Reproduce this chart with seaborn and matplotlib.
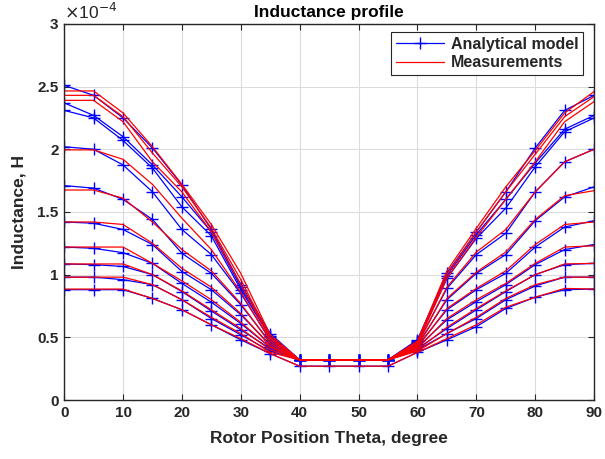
import numpy as np
import pandas as pd
import matplotlib
matplotlib.use("Agg")
import matplotlib.pyplot as plt
from matplotlib.lines import Line2D
import seaborn as sns

# Rotor angle (degrees) at which each profile is sampled
angles = [0, 5, 10, 15, 20, 25, 30, 35, 40, 45, 50, 55, 60, 65, 70, 75, 80, 85, 90]

# Inductance profiles in units of 1e-4 H, one row per excitation level
analytical = [
    [2.51, 2.43, 2.25, 2.01, 1.715, 1.36, 0.92, 0.53, 0.32, 0.32, 0.32, 0.32, 0.48, 1.01, 1.34, 1.66, 2.01, 2.31, 2.43],
    [2.37, 2.27, 2.10, 1.875, 1.62, 1.34, 0.90, 0.51, 0.32, 0.32, 0.32, 0.32, 0.47, 0.99, 1.32, 1.60, 1.89, 2.16, 2.27],
    [2.31, 2.25, 2.07, 1.85, 1.54, 1.31, 0.88, 0.50, 0.32, 0.32, 0.32, 0.32, 0.46, 0.97, 1.29, 1.53, 1.86, 2.14, 2.25],
    [2.02, 2.00, 1.875, 1.66, 1.36, 1.16, 0.85, 0.48, 0.32, 0.32, 0.32, 0.32, 0.45, 0.89, 1.16, 1.33, 1.66, 1.90, 2.00],
    [1.71, 1.69, 1.60, 1.44, 1.17, 1.01, 0.76, 0.46, 0.32, 0.32, 0.32, 0.32, 0.44, 0.80, 1.01, 1.16, 1.43, 1.62, 1.70],
    [1.42, 1.41, 1.36, 1.24, 1.025, 0.88, 0.68, 0.44, 0.32, 0.32, 0.32, 0.32, 0.43, 0.72, 0.88, 1.01, 1.22, 1.38, 1.43],
    [1.22, 1.21, 1.175, 1.09, 0.93, 0.78, 0.61, 0.42, 0.32, 0.32, 0.32, 0.32, 0.42, 0.64, 0.785, 0.92, 1.08, 1.20, 1.24],
    [1.085, 1.08, 1.065, 1.00, 0.865, 0.71, 0.56, 0.41, 0.32, 0.32, 0.32, 0.32, 0.41, 0.57, 0.72, 0.865, 1.00, 1.08, 1.09],
    [0.98, 0.98, 0.96, 0.92, 0.80, 0.65, 0.52, 0.39, 0.32, 0.32, 0.32, 0.32, 0.40, 0.53, 0.65, 0.80, 0.91, 0.98, 0.98],
    [0.88, 0.88, 0.88, 0.81, 0.72, 0.60, 0.48, 0.37, 0.27, 0.27, 0.27, 0.27, 0.38, 0.48, 0.585, 0.73, 0.82, 0.88, 0.885],
]

measured = [
    [2.465, 2.465, 2.29, 2.02, 1.72, 1.40, 1.01, 0.52, 0.32, 0.32, 0.32, 0.32, 0.47, 1.03, 1.37, 1.70, 1.99, 2.29, 2.46],
    [2.43, 2.43, 2.26, 1.97, 1.70, 1.37, 0.96, 0.50, 0.32, 0.32, 0.32, 0.32, 0.46, 1.00, 1.34, 1.66, 1.96, 2.26, 2.42],
    [2.39, 2.39, 2.22, 1.90, 1.66, 1.34, 0.92, 0.49, 0.32, 0.32, 0.32, 0.32, 0.45, 0.97, 1.30, 1.60, 1.90, 2.22, 2.38],
    [1.995, 1.995, 1.92, 1.72, 1.45, 1.20, 0.86, 0.47, 0.32, 0.32, 0.32, 0.32, 0.44, 0.90, 1.18, 1.36, 1.66, 1.90, 2.00],
    [1.675, 1.675, 1.61, 1.42, 1.20, 1.03, 0.77, 0.45, 0.32, 0.32, 0.32, 0.32, 0.43, 0.81, 1.02, 1.18, 1.44, 1.63, 1.67],
    [1.42, 1.42, 1.40, 1.25, 1.05, 0.90, 0.69, 0.43, 0.32, 0.32, 0.32, 0.32, 0.42, 0.73, 0.89, 1.03, 1.24, 1.40, 1.42],
    [1.22, 1.22, 1.22, 1.09, 0.95, 0.80, 0.62, 0.42, 0.32, 0.32, 0.32, 0.32, 0.41, 0.65, 0.80, 0.93, 1.09, 1.22, 1.23],
    [1.085, 1.085, 1.085, 1.00, 0.87, 0.72, 0.57, 0.40, 0.32, 0.32, 0.32, 0.32, 0.40, 0.58, 0.73, 0.87, 1.00, 1.085, 1.09],
    [0.98, 0.98, 0.98, 0.92, 0.80, 0.66, 0.53, 0.38, 0.32, 0.32, 0.32, 0.32, 0.39, 0.53, 0.66, 0.81, 0.92, 0.98, 0.98],
    [0.885, 0.885, 0.885, 0.81, 0.72, 0.60, 0.49, 0.37, 0.27, 0.27, 0.27, 0.27, 0.38, 0.49, 0.60, 0.74, 0.82, 0.89, 0.885],
]

x_ticks = [0, 10, 20, 30, 40, 50, 60, 70, 80, 90]
y_ticks = [0, 0.5, 1, 1.5, 2, 2.5, 3]


def to_long(rows):
    recs = []
    for k, row in enumerate(rows):
        for a, v in zip(angles, row):
            recs.append({"curve": k, "angle": a, "L": v})
    return pd.DataFrame(recs)


df_model = to_long(analytical)
df_meas = to_long(measured)

sns.set_theme(style="white")
plt.rcParams["font.family"] = ["Liberation Sans", "DejaVu Sans"]

fig = plt.figure(figsize=(6.05, 4.59), dpi=100)
ax = fig.add_axes([0.106, 0.1285, 0.876, 0.8195])

sns.lineplot(data=df_model, x="angle", y="L", units="curve", estimator=None,
             color="#0000ff", lw=0.9, marker="+", markersize=9, markeredgewidth=1.0,
             markeredgecolor="#0000ff", ax=ax, legend=False, sort=False)
sns.lineplot(data=df_meas, x="angle", y="L", units="curve", estimator=None,
             color="#ff0000", lw=0.9, ax=ax, legend=False, sort=False)

ax.set_xlim(0, 90)
ax.set_ylim(0, 3)
ax.set_xticks(x_ticks)
ax.set_yticks(y_ticks)
ax.set_xticklabels([f"{t:g}" for t in x_ticks], fontsize=11, fontweight="bold", color="#262626")
ax.set_yticklabels([f"{t:g}" for t in y_ticks], fontsize=11, fontweight="bold", color="#262626")
ax.grid(True, color="#dcdcdc", lw=0.8)
ax.set_axisbelow(True)
for s in ax.spines.values():
    s.set_color("#262626")
    s.set_linewidth(1.0)
ax.tick_params(direction="in", length=4, width=0.8, color="#262626",
               top=True, right=True, bottom=True, left=True, pad=4)

ax.set_xlabel("Rotor Position Theta, degree", fontsize=12.5, fontweight="bold", color="#262626", labelpad=8)
ax.set_ylabel("Inductance, H", fontsize=12.5, fontweight="bold", color="#262626", labelpad=8)
ax.set_title("Inductance profile", fontsize=12.5, fontweight="bold", color="#000000", pad=5)
ax.text(0.0, 1.005, r"$\times$10$^{-4}$", transform=ax.transAxes, fontsize=12.5,
        color="#262626", ha="left", va="bottom")

handles = [
    Line2D([], [], color="#0000ff", lw=0.9, marker="+", markersize=9, markeredgewidth=1.0),
    Line2D([], [], color="#ff0000", lw=0.9),
]
leg = ax.legend(handles, ["Analytical model", "Measurements"], loc="upper right",
                bbox_to_anchor=(0.979, 0.978), borderaxespad=0, fancybox=False, framealpha=1,
                edgecolor="#262626", prop={"weight": "bold", "size": 11.5},
                handlelength=3.0, borderpad=0.3, labelspacing=0.2, handletextpad=0.4)
leg.get_frame().set_linewidth(0.8)

fig.savefig("out.png", dpi=100, facecolor="white")
